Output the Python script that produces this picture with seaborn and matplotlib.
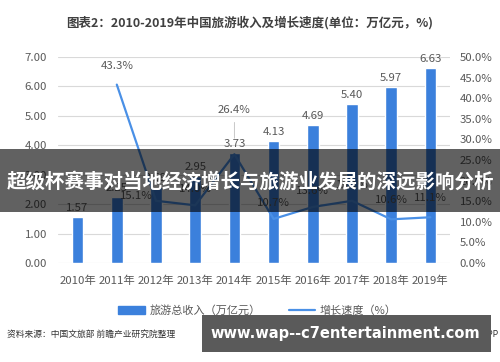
import numpy as np
import pandas as pd
import seaborn as sns
import matplotlib
matplotlib.use('Agg')
import matplotlib.pyplot as plt
from matplotlib.patches import Rectangle
from matplotlib.ticker import FormatStrFormatter, PercentFormatter

# data
years = ['2010年', '2011年', '2012年', '2013年', '2014年', '2015年', '2016年', '2017年', '2018年', '2019年']
revenue = [1.57, 2.25, 2.59, 2.95, 3.73, 4.13, 4.69, 5.40, 5.97, 6.63]
growth = [np.nan, 43.3, 15.1, 14.0, 26.4, 10.7, 13.6, 15.1, 10.6, 11.1]

df = pd.DataFrame({'year': years, 'revenue': revenue, 'growth': growth,
                   'pos': np.arange(len(years))})

sns.set_style('white')
plt.rcParams['font.family'] = ['Noto Sans CJK SC', 'DejaVu Sans']

bar_color = '#3b80dc'
line_color = '#4a90e6'
txt = '#595959'

fig = plt.figure(figsize=(5, 3.62), dpi=100)
ax = fig.add_axes([0.116, 0.2735, 0.784, 0.569])

sns.barplot(data=df, x='year', y='revenue', color=bar_color, width=0.3,
            saturation=1, ax=ax, zorder=2)
ax.set_ylim(0, 7)
ax.set_yticks(np.arange(0, 8, 1))
ax.yaxis.set_major_formatter(FormatStrFormatter('%.2f'))
ax.grid(axis='y', color='#d9d9d9', lw=0.8, zorder=0)
ax.set_axisbelow(True)
ax.set_xlabel('')
ax.set_ylabel('')
ax.tick_params(axis='y', length=0, colors=txt, labelsize=8.2, pad=8)
ax.tick_params(axis='x', length=0, colors=txt, labelsize=8.2, pad=9)
for s in ax.spines.values():
    s.set_visible(False)
ax.bar_label(ax.containers[0], fmt='%.2f', padding=3, fontsize=8.2, color=txt)

ax2 = ax.twinx()
sns.lineplot(data=df.dropna(), x='pos', y='growth', color=line_color, lw=1.6, ax=ax2)
ax2.set_ylim(0, 50)
ax2.set_yticks(np.arange(0, 55, 5))
ax2.yaxis.set_major_formatter(PercentFormatter(decimals=1))
ax2.set_xlim(-0.5, len(years) - 0.5)
ax2.set_xlabel('')
ax2.set_ylabel('')
ax2.tick_params(axis='y', length=0, colors=txt, labelsize=8.2, pad=7)
for s in ax2.spines.values():
    s.set_visible(False)

offsets = {1: (0, 10), 2: (-14, 0), 3: (0, 8), 4: (0, 28), 5: (0, 8),
           6: (0, 8), 7: (0, 8), 8: (0, 10), 9: (0, 10)}
for i, g in enumerate(growth):
    if np.isnan(g):
        continue
    dx, dy = offsets[i]
    ax2.annotate(f'{g:.1f}%', (i, g), xytext=(dx, dy), textcoords='offset points',
                 ha='center', va='bottom', fontsize=8.2, color=txt)
ax2.annotate('', xy=(4, 29.6), xytext=(4, 34.8),
             arrowprops=dict(arrowstyle='-', color='#bfbfbf', lw=0.6))

fig.text(0.5, 0.938, '图表2：2010-2019年中国旅游收入及增长速度(单位：万亿元，%)',
         ha='center', va='center', fontsize=9, fontweight='bold', color='#404040')

# legend
handles = [plt.Rectangle((0, 0), 1, 1, color=bar_color),
           plt.Line2D([0], [0], color=line_color, lw=1.6)]
fig.legend(handles, ['旅游总收入（万亿元）', '增长速度（%）'], loc='center',
           bbox_to_anchor=(0.515, 0.143), ncol=2, frameon=False, fontsize=8,
           labelcolor=txt, handlelength=2.4, columnspacing=2.5, handletextpad=0.4)

fig.text(0.014, 0.077, '资料来源：中国文旅部 前瞻产业研究院整理', fontsize=6.3,
         color='#333333', va='center')
fig.text(0.998, 0.077, '@前瞻经济学人APP', fontsize=6.3, color='#333333',
         va='center', ha='right')

# overlay banner and footer box
fig.add_artist(Rectangle((0, 0.4144), 1, 0.174, transform=fig.transFigure,
                         color='black', alpha=0.62, lw=0, zorder=10))
fig.text(0.5, 0.497, '超级杯赛事对当地经济增长与旅游业发展的深远影响分析',
         ha='center', va='center', fontsize=14, fontweight='bold', color='white', zorder=11)
fig.add_artist(Rectangle((0.404, 0.0276), 0.578, 0.1022, transform=fig.transFigure,
                         color='#5a5a5a', lw=0, zorder=10))
fig.text(0.69, 0.078, 'www.wap--c7entertainment.com', ha='center', va='center',
         fontsize=10.5, fontweight='bold', color='white', family='DejaVu Sans', zorder=11)

fig.savefig('out.png', dpi=100)
